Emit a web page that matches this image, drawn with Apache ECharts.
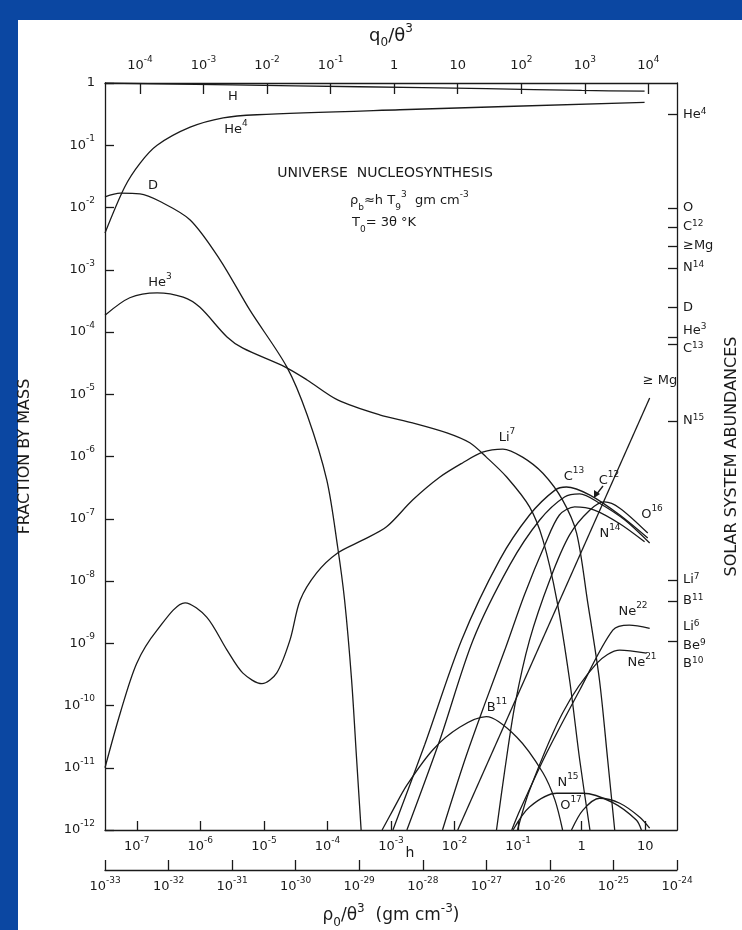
<!DOCTYPE html>
<html>
<head>
<meta charset="utf-8">
<style>
  html, body { margin: 0; padding: 0; background: #0b47a2; }
  #main { width: 742px; height: 930px; }
</style>
<script src="https://cdn.jsdelivr.net/npm/echarts@6/dist/echarts.min.js"></script>
</head>
<body>
<div id="main"></div>
<script>
// all values are log10: x = log10(rho0/theta^3), y = log10(fraction by mass)
var hLine   = [[-33, 0], [-31, -0.03], [-29, -0.06], [-27, -0.09], [-25.5, -0.12], [-24.51, -0.13]];
var he4Line = [[-33, -2.41], [-32.69, -1.67], [-32.45, -1.29], [-32.18, -1.0], [-31.66, -0.71], [-31.14, -0.56], [-30.61, -0.51], [-28.36, -0.43], [-24.51, -0.31]];
var dLine   = [[-33, -1.83], [-32.76, -1.77], [-32.45, -1.78], [-32.14, -1.9], [-31.66, -2.2], [-31.19, -2.84], [-30.72, -3.65], [-30.14, -4.56], [-29.82, -5.33], [-29.51, -6.38], [-29.34, -7.45], [-29.23, -8.31], [-29.12, -9.59], [-29.04, -10.88], [-28.97, -12]];
var he3Line = [[-33, -3.73], [-32.61, -3.45], [-32.18, -3.37], [-31.77, -3.44], [-31.51, -3.6], [-31.08, -4.08], [-30.83, -4.26], [-30.17, -4.56], [-29.82, -4.77], [-29.34, -5.09], [-28.68, -5.33], [-28.16, -5.46], [-27.62, -5.62], [-27.26, -5.78], [-27.0, -6.01], [-26.68, -6.33], [-26.32, -6.81], [-26.11, -7.34], [-25.89, -8.31], [-25.69, -9.59], [-25.53, -10.88], [-25.37, -12]];
var li7Line = [[-33, -11.0], [-32.76, -10.12], [-32.5, -9.32], [-32.18, -8.79], [-31.74, -8.35], [-31.4, -8.58], [-31.08, -9.11], [-30.83, -9.48], [-30.53, -9.65], [-30.3, -9.48], [-30.09, -8.95], [-29.93, -8.31], [-29.67, -7.87], [-29.34, -7.55], [-28.94, -7.34], [-28.57, -7.13], [-28.16, -6.7], [-27.73, -6.33], [-27.37, -6.1], [-27.06, -5.93], [-26.74, -5.88], [-26.43, -6.01], [-26.11, -6.27], [-25.8, -6.7], [-25.58, -7.23], [-25.41, -8.31], [-25.22, -9.59], [-25.09, -10.88], [-24.98, -12]];
var b11Line = [[-28.64, -12], [-28.47, -11.68], [-28.25, -11.28], [-27.84, -10.71], [-27.42, -10.35], [-27.0, -10.18], [-26.52, -10.51], [-26.11, -11.08], [-25.92, -11.52], [-25.8, -12]];
var c13Line = [[-28.47, -12], [-27.97, -10.63], [-27.39, -8.95], [-26.79, -7.66], [-26.32, -6.94], [-25.92, -6.54], [-25.74, -6.49], [-25.37, -6.62], [-24.9, -6.94], [-24.46, -7.31]];
var c12Line = [[-28.25, -12], [-27.73, -10.55], [-27.21, -8.95], [-26.63, -7.74], [-26.16, -7.02], [-25.77, -6.65], [-25.53, -6.6], [-25.22, -6.75], [-24.82, -7.02], [-24.43, -7.39]];
var n14Line = [[-27.69, -12], [-27.34, -10.88], [-27.03, -9.99], [-26.71, -9.11], [-26.4, -8.22], [-26.08, -7.42], [-25.85, -6.94], [-25.61, -6.81], [-25.3, -6.86], [-24.9, -7.08], [-24.51, -7.37]];
var o16Line = [[-26.84, -12], [-26.71, -11.04], [-26.55, -9.99], [-26.32, -8.95], [-26.0, -7.98], [-25.69, -7.26], [-25.37, -6.86], [-25.14, -6.73], [-24.9, -6.83], [-24.46, -7.23]];
var mgLine  = [[-27.45, -12], [-24.43, -5.06]];
var ne22Line = [[-26.6, -12], [-26.47, -11.68], [-26.05, -10.76], [-25.53, -9.75], [-25.01, -8.79], [-24.75, -8.71], [-24.43, -8.76]];
var ne21Line = [[-26.51, -12], [-26.32, -11.36], [-25.8, -10.12], [-25.26, -9.32], [-24.9, -9.11], [-24.48, -9.16]];
var n15Line = [[-26.58, -12], [-26.32, -11.63], [-25.89, -11.41], [-25.48, -11.41], [-25.01, -11.56], [-24.64, -11.84], [-24.56, -12]];
var o17Line = [[-25.66, -12], [-25.48, -11.68], [-25.22, -11.49], [-24.9, -11.57], [-24.59, -11.79], [-24.43, -11.97]];

// axis ticks (exponents)
var hTicks = [-7, -6, -5, -4, -3, -2, -1, 0, 1];
var qTicks = [-4, -3, -2, -1, 0, 1, 2, 3, 4];
// solar system abundances (right axis)
var solarTicks = [-0.51, -2.01, -2.31, -2.62, -2.97, -3.61, -4.08, -4.19, -5.43, -7.98, -8.32, -8.96];
var solarLabelPos = [-0.51, -2.01, -2.31, -2.62, -2.97, -3.61, -3.97, -4.27, -5.43, -7.98, -8.32, -8.74, -9.04, -9.33];
var solarNames = ['He{s|4}', 'O', 'C{s|12}', '≥Mg', 'N{s|14}', 'D', 'He{s|3}', 'C{s|13}', 'N{s|15}', 'Li{s|7}', 'B{s|11}', 'Li{s|6}', 'Be{s|9}', 'B{s|10}'];

var ink = '#1a1a1a';
var fam = 'DejaVu Sans';
function richFor(key, big) {
    var sz = big ? 12 : 9, o = {};
    o.s = { fontSize: sz, verticalAlign: 'top', lineHeight: sz + 1, fontFamily: fam };
    o.u = { fontSize: sz, verticalAlign: 'bottom', lineHeight: sz + 1, fontFamily: fam };
    o.s[key] = ink; o.u[key] = ink;
    return o;
}

function pow10(v) {
    if (v === 0) return '1';
    if (v === 1) return '10';
    return '10{s|' + v + '}';
}

function labelStyle(extra) {
    var o = { color: ink, fontFamily: fam, fontSize: 13, lineHeight: 22, rich: richFor('color') };
    for (var k in extra) o[k] = extra[k];
    return o;
}

function txt(x, y, text, size, align) {
    return {
        type: 'text', x: x, y: y, z: 5,
        style: {
            text: text, fill: ink, fontFamily: fam, fontSize: size || 13,
            lineHeight: 22, align: align || 'center', verticalAlign: 'middle', rich: richFor('fill')
        }
    };
}

var lineStyle = { color: ink, width: 1.3 };
var axisLine = { show: true, onZero: false, lineStyle: lineStyle };

function curve(data) {
    return {
        type: 'line', data: data, xAxisIndex: 0, yAxisIndex: 0,
        showSymbol: false, symbol: 'none', smooth: 0.3,
        silent: true, lineStyle: lineStyle, z: 3
    };
}

var myChart = echarts.init(document.getElementById('main'));
var option = {
    backgroundColor: '#0b47a2',
    animation: false,
    grid: { left: 105, right: 65, top: 83, bottom: 100, outerBoundsMode: 'none', containLabel: false },
    xAxis: [{
        // rho0 / theta^3
        type: 'value', position: 'bottom', offset: 40,
        min: -33, max: -24, interval: 1,
        axisLine: axisLine,
        axisTick: { show: true, inside: true, length: 10, lineStyle: lineStyle },
        axisLabel: labelStyle({ margin: 6, formatter: pow10 }),
        splitLine: { show: false },
        name: 'ρ{u|0}/θ{s|3}  (gm cm{s|-3})', nameLocation: 'middle', nameGap: 30,
        nameTextStyle: { color: ink, fontFamily: fam, fontSize: 17, lineHeight: 26, rich: richFor('color', true) }
    }, {
        // h
        type: 'value', position: 'bottom', offset: 0,
        min: -7.5, max: 1.5,
        axisLine: axisLine,
        axisTick: { show: true, inside: true, length: 9, lineStyle: lineStyle, customValues: hTicks },
        axisLabel: labelStyle({ margin: 6, formatter: pow10, customValues: hTicks }),
        splitLine: { show: false }
    }, {
        // q0 / theta^3
        type: 'value', position: 'top',
        min: -4.55, max: 4.45,
        axisLine: axisLine,
        axisTick: { show: true, inside: true, length: 11, lineStyle: lineStyle, customValues: qTicks },
        axisLabel: labelStyle({ margin: 6, formatter: pow10, customValues: qTicks }),
        splitLine: { show: false },
        name: 'q{u|0}/θ{s|3}', nameLocation: 'middle', nameGap: 34,
        nameTextStyle: { color: ink, fontFamily: fam, fontSize: 18, lineHeight: 26, rich: richFor('color', true) }
    }],
    yAxis: [{
        type: 'value', position: 'left',
        min: -12, max: 0, interval: 1,
        axisLine: axisLine,
        axisTick: { show: true, inside: true, length: 9, lineStyle: lineStyle },
        axisLabel: labelStyle({ margin: 10, formatter: pow10 }),
        splitLine: { show: false },
        name: 'FRACTION BY MASS', nameLocation: 'middle', nameRotate: 90, nameGap: 72,
        nameTextStyle: { color: ink, fontFamily: fam, fontSize: 16 }
    }, {
        type: 'value', position: 'right',
        min: -12, max: 0,
        axisLine: axisLine,
        axisTick: { show: true, inside: true, length: 9, lineStyle: lineStyle, customValues: solarTicks },
        axisLabel: labelStyle({
            margin: 6, lineHeight: 15, customValues: solarLabelPos,
            showMinLabel: true, showMaxLabel: true, hideOverlap: false,
            formatter: function (v) {
                for (var i = 0; i < solarLabelPos.length; i++) {
                    if (Math.abs(solarLabelPos[i] - v) < 1e-6) return solarNames[i];
                }
                return '';
            }
        }),
        splitLine: { show: false },
        name: 'SOLAR SYSTEM ABUNDANCES', nameLocation: 'middle', nameRotate: 90, nameGap: 44,
        nameTextStyle: { color: ink, fontFamily: fam, fontSize: 16 }
    }],
    graphic: [
        { type: 'rect', shape: { x: 18, y: 20, width: 724, height: 910 }, style: { fill: '#ffffff' }, z: -10 },
        txt(233, 97, 'H'),
        txt(236, 130, 'He{s|4}'),
        txt(153, 186, 'D'),
        txt(160, 283, 'He{s|3}'),
        txt(385, 173, 'UNIVERSE  NUCLEOSYNTHESIS', 14),
        txt(350, 201, 'ρ{u|b}≈h T{u|9}{s|3}  gm cm{s|-3}', 13, 'left'),
        txt(352, 223, 'T{u|0}= 3θ °K', 13, 'left'),
        txt(660, 381, '≥ Mg'),
        txt(507, 438, 'Li{s|7}'),
        txt(574, 477, 'C{s|13}'),
        txt(609, 481, 'C{s|12}'),
        txt(652, 515, 'O{s|16}'),
        txt(610, 534, 'N{s|14}'),
        txt(633, 612, 'Ne{s|22}'),
        txt(642, 663, 'Ne{s|21}'),
        txt(497, 708, 'B{s|11}'),
        txt(568, 783, 'N{s|15}'),
        txt(571, 806, 'O{s|17}'),
        txt(410, 853, 'h', 14),
        { type: 'line', z: 5, shape: { x1: 603, y1: 486, x2: 596, y2: 495 }, style: { stroke: ink, lineWidth: 1.3 } },
        { type: 'polygon', z: 5, shape: { points: [[594, 498], [594, 490], [600, 494]] }, style: { fill: ink } }
    ],
    series: [
        curve(hLine), curve(he4Line), curve(dLine), curve(he3Line), curve(li7Line),
        curve(b11Line), curve(c13Line), curve(c12Line), curve(o16Line), curve(n14Line),
        curve(mgLine), curve(ne22Line), curve(ne21Line), curve(n15Line), curve(o17Line)
    ]
};
myChart.setOption(option);
</script>
</body>
</html>
